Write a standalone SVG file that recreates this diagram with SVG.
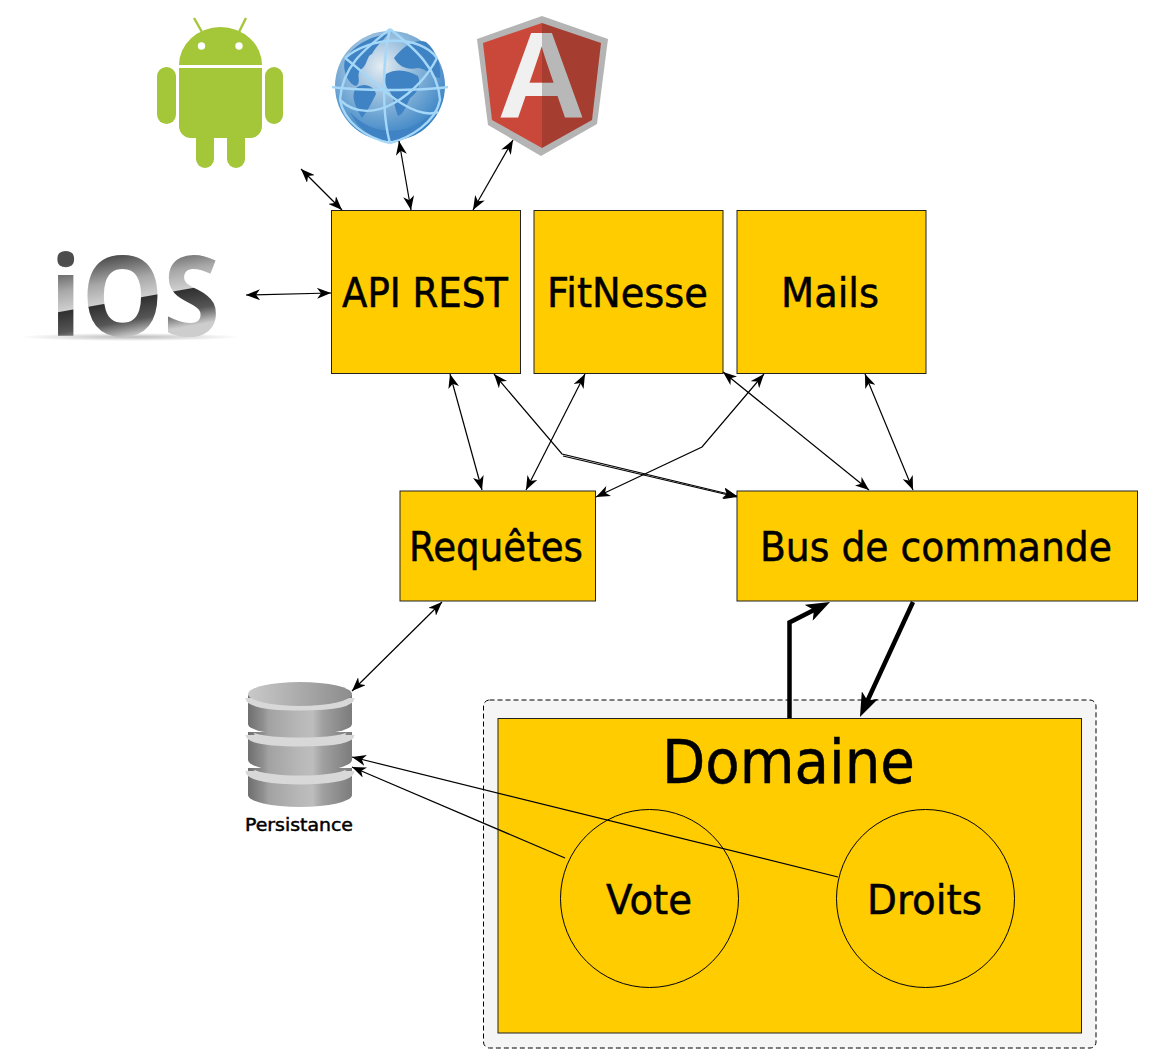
<svg xmlns="http://www.w3.org/2000/svg" width="1153" height="1063" viewBox="0 0 1153 1063">
<style>
.box{fill:#ffcc00;stroke:#222;stroke-width:1}
.t{font-family:"DejaVu Sans","Liberation Sans",sans-serif;fill:#000;stroke:#000;stroke-width:0.5;text-anchor:start}
.l{font-size:40px}
.c{fill:none;stroke:#000;stroke-width:1.2;marker-end:url(#a);marker-start:url(#a)}
.o{fill:none;stroke:#000;stroke-width:1.2;marker-end:url(#a)}
.h{fill:none;stroke:#000;stroke-width:4.5;marker-end:url(#b);stroke-linejoin:miter}
.and{fill:#a4c639}
.ring{fill:none;stroke:#a5d8f8;stroke-width:2.4}
.land{fill:#3f83c4}
.band{fill:none;stroke:#d8d8d8;stroke-width:9}
</style>
<defs>
<marker id="a" markerUnits="userSpaceOnUse" markerWidth="14" markerHeight="11" viewBox="0 0 14 11" refX="14" refY="5.500" orient="auto-start-reverse"><path d="M14 5.500L0 0L4 5.500L0 11Z"/></marker>
<marker id="b" markerUnits="userSpaceOnUse" markerWidth="24" markerHeight="18" viewBox="0 0 24 18" refX="16" refY="9" orient="auto"><path d="M24 9L0 0L6 9L0 18Z"/></marker>
<radialGradient id="gl" cx="0.42" cy="0.32" r="0.72"><stop offset="0" stop-color="#e4ecf2"/><stop offset="0.45" stop-color="#8db7da"/><stop offset="1" stop-color="#2d7cc2"/></radialGradient>
<linearGradient id="ios" gradientUnits="userSpaceOnUse" x1="118" y1="240" x2="136" y2="340"><stop offset="0.147" stop-color="#4d4d4d"/><stop offset="0.4" stop-color="#a8a8a8"/><stop offset="0.59" stop-color="#cfcfcf"/><stop offset="0.6" stop-color="#303030"/><stop offset="0.8" stop-color="#565656"/><stop offset="0.96" stop-color="#cdcdcd"/></linearGradient>
<linearGradient id="db"><stop offset="0" stop-color="#6f6f6f"/><stop offset="0.14" stop-color="#8e8e8e"/><stop offset="0.2" stop-color="#a2a2a2"/><stop offset="0.5" stop-color="#b8b8b8"/><stop offset="0.62" stop-color="#bdbdbd"/><stop offset="0.72" stop-color="#a0a0a0"/><stop offset="1" stop-color="#7c7c7c"/></linearGradient>
<linearGradient id="dbt"><stop offset="0" stop-color="#c9c9c9"/><stop offset="1" stop-color="#8c8c8c"/></linearGradient>
<radialGradient id="sh"><stop offset="0" stop-color="#bbb"/><stop offset="1" stop-color="#fff"/></radialGradient>
<clipPath id="al"><rect x="470" y="10" width="72" height="150"/></clipPath>
<clipPath id="ar"><rect x="542" y="10" width="72" height="150"/></clipPath>
</defs>
<rect width="1153" height="1063" fill="#fff"/>

<g id="android">
<path class="and" d="M179 65A41.500 38 0 0 1 262 65Z"/>
<path d="M194 18L202 32M246 18L239 32" stroke="#a4c639" stroke-width="2.400" fill="none"/>
<circle cx="201.500" cy="46" r="3.700" fill="#fff"/><circle cx="239" cy="46" r="3.700" fill="#fff"/>
<path class="and" d="M179 68H262V126A12 12 0 0 1 250 138H191A12 12 0 0 1 179 126Z"/>
<rect class="and" x="157" y="67" width="19" height="57" rx="9.500"/>
<rect class="and" x="265" y="67" width="18" height="57" rx="9"/>
<rect class="and" x="196" y="125" width="18" height="43" rx="9"/>
<rect class="and" x="227" y="125" width="18" height="43" rx="9"/>
</g>

<g id="globe">
<circle cx="390" cy="86" r="55" fill="url(#gl)"/>
<path class="land" d="M345 60C352 46 370 36 388 34C382 42 376 46 372 54C366 56 368 66 360 70C356 76 362 82 356 86C348 84 342 70 345 60Z"/>
<path class="land" d="M356 88C364 82 374 86 376 94C372 102 368 110 362 118C356 108 350 96 356 88Z"/>
<path class="land" d="M386 74C396 68 408 70 418 76C422 86 416 94 410 98C406 106 404 114 398 116C394 106 394 98 390 92C385 86 384 80 386 74Z"/>
<path class="land" d="M394 58C402 48 414 38 426 42C436 50 442 66 440 78C434 78 426 68 418 68C408 70 400 68 394 58Z"/>
<path class="land" d="M350 112C370 136 410 138 432 112C420 132 400 141 390 141C372 140 358 128 350 112Z"/>
<path class="ring" d="M332 87C360 91 420 91 448 87"/>
<path class="ring" d="M390 29C382 60 382 115 390 143"/>
<path class="ring" d="M390 29C366 48 342 66 340 100C344 122 366 138 390 143"/>
<path class="ring" d="M390 29C414 48 438 68 440 100C436 122 410 138 390 143"/>
<path class="ring" d="M345 58C370 36 420 34 437 58"/>
<path class="ring" d="M340 100C372 130 420 92 437 58"/>
<path class="ring" d="M345 58C372 78 410 122 438 112"/>
</g>

<g id="angular">
<polygon points="542,16 608,39 597,124 541,156 488,125 477,39" fill="#b4b4b4"/>
<polygon points="542,23 542,148 492,120 483,43" fill="#c9483a"/>
<polygon points="542,23 601,43 592,120 542,148" fill="#a53d30"/>
<text x="541.500" y="118" font-family="Liberation Sans,sans-serif" font-weight="700" font-size="122" text-anchor="middle" fill="#f0f0f0" clip-path="url(#al)">A</text>
<text x="541.500" y="118" font-family="Liberation Sans,sans-serif" font-weight="700" font-size="122" text-anchor="middle" fill="#b8b8b8" clip-path="url(#ar)">A</text>
</g>

<g id="ios">
<ellipse cx="130" cy="337" rx="110" ry="4" fill="url(#sh)"/>
<text x="50" y="336" font-family="Open Sans,sans-serif" font-weight="700" font-size="112" fill="url(#ios)" textLength="170" lengthAdjust="spacingAndGlyphs">iOS</text>
</g>

<g id="persistance">
<path d="M248 768V795A52 12 0 0 0 352 795V768Z" fill="url(#db)"/>
<path class="band" d="M250 771A50 9 0 0 0 350 771"/>
<path d="M248 732V760A52 12 0 0 0 352 760V732Z" fill="url(#db)"/>
<path class="band" d="M250 735A50 7 0 0 0 350 735"/>
<path d="M248 695V724A52 11 0 0 0 352 724V695Z" fill="url(#db)"/>
<path class="band" d="M250 698A50 8 0 0 0 350 698"/>
<ellipse cx="300" cy="694" rx="52" ry="12" fill="url(#dbt)"/>
<text class="t" x="245" y="831" font-size="18" textLength="108" lengthAdjust="spacingAndGlyphs">Persistance</text>
</g>

<g id="api-rest"><rect class="box" x="331.500" y="210.500" width="189" height="163"/><text class="t l" x="342" y="307" textLength="166" lengthAdjust="spacingAndGlyphs">API REST</text></g>
<g id="fitnesse"><rect class="box" x="534" y="210.500" width="189" height="163"/><text class="t l" x="547" y="307" textLength="161" lengthAdjust="spacingAndGlyphs">FitNesse</text></g>
<g id="mails"><rect class="box" x="737" y="210.500" width="189" height="163"/><text class="t l" x="781" y="307" textLength="98" lengthAdjust="spacingAndGlyphs">Mails</text></g>
<g id="requetes"><rect class="box" x="400" y="491" width="195.500" height="110"/><text class="t l" x="409" y="561" textLength="174" lengthAdjust="spacingAndGlyphs">Requêtes</text></g>
<g id="bus"><rect class="box" x="737" y="491" width="400.500" height="110"/><text class="t l" x="760" y="561" textLength="352" lengthAdjust="spacingAndGlyphs">Bus de commande</text></g>

<g id="domaine">
<rect x="483.500" y="700" width="612.500" height="348" rx="6" fill="#f5f5f5" stroke="#000" stroke-width="1" stroke-dasharray="5 3"/>
<rect class="box" x="498" y="718.500" width="583.500" height="314.500"/>
<text class="t" x="662" y="783" font-size="60" textLength="253" lengthAdjust="spacingAndGlyphs">Domaine</text>
</g>
<g id="vote"><circle cx="649.500" cy="898.500" r="89" fill="#ffcc00" stroke="#000"/><text class="t l" x="606" y="914" textLength="86" lengthAdjust="spacingAndGlyphs">Vote</text></g>
<g id="droits"><circle cx="925.500" cy="898.500" r="89" fill="#ffcc00" stroke="#000"/><text class="t l" x="867" y="914" textLength="115" lengthAdjust="spacingAndGlyphs">Droits</text></g>

<g id="connectors">
<path class="c" d="M301 169L342 210"/>
<path class="c" d="M399 141L411 210"/>
<path class="c" d="M513 140L473 210"/>
<path class="c" d="M246 295L331 293"/>
<path class="c" d="M450 374L482 490"/>
<path class="c" d="M585 374L526 490"/>
<path class="c" d="M494 374L562 454L737 496"/>
<path class="o" d="M563 456L737 497"/>
<path class="c" d="M764 374L702 447L596 497"/>
<path class="c" d="M723 372L869 490"/>
<path class="c" d="M865 374L913 490"/>
<path class="c" d="M442 602L352 691"/>
<path class="o" d="M565 858L352 767"/>
<path class="o" d="M838 877L352 757"/>
<path class="h" d="M789.500 718V622.500L822.900 605.600"/>
<path class="h" d="M913 602L863.300 709.700"/>
</g>
</svg>
